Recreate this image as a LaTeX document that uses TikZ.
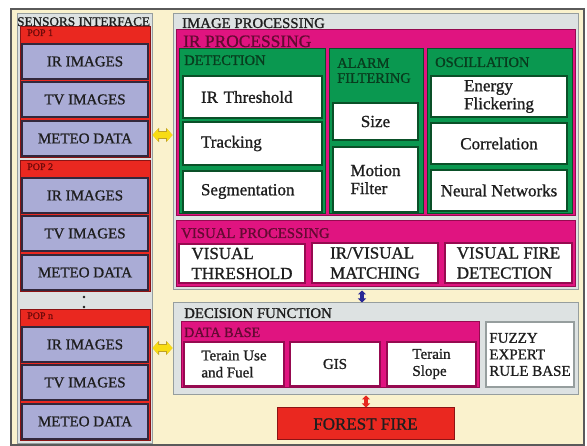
\documentclass[tikz,border=0pt]{standalone}
\usepackage{fontspec}
\setmainfont{Liberation Serif}[UprightFeatures={FakeBold=1}]
\usetikzlibrary{arrows.meta}
\definecolor{cream}{RGB}{250,242,205}
\definecolor{frame}{RGB}{90,90,90}
\definecolor{panel}{RGB}{221,226,226}
\definecolor{panelline}{RGB}{150,158,158}
\definecolor{popred}{RGB}{234,40,32}
\definecolor{popline}{RGB}{140,20,20}
\definecolor{popink}{RGB}{110,10,10}
\definecolor{lavender}{RGB}{170,172,214}
\definecolor{lavline}{RGB}{50,40,60}
\definecolor{irmag}{RGB}{224,20,128}
\definecolor{magline}{RGB}{150,10,80}
\definecolor{magink}{RGB}{100,10,50}
\definecolor{grn}{RGB}{10,152,80}
\definecolor{grnline}{RGB}{10,80,40}
\definecolor{grnink}{RGB}{8,60,30}
\definecolor{ink}{RGB}{30,30,30}
\definecolor{arrowyel}{RGB}{248,220,20}
\definecolor{arrowedge}{RGB}{190,160,40}
\definecolor{arrowblue}{RGB}{40,40,150}
\definecolor{arrowred}{RGB}{230,40,30}
\newcommand{\cell}[7]{\node[#2, minimum width=(#5)-(#3), minimum height=(#6)-(#4)] (#1) at ({(#3+#5)/2},{(#4+#6)/2}) {#7};}
\tikzset{
  greybox/.style={draw=panelline, fill=panel, line width=1pt},
  popbox/.style={draw=popline, fill=popred, line width=1pt},
  magbox/.style={draw=magline, fill=irmag, line width=1pt},
  grnbox/.style={draw=grnline, fill=grn, line width=1pt},
  sensbox/.style={draw=lavline, fill=lavender, line width=1.3pt, text=ink, font=\fontsize{15}{17}\selectfont},
  wbox/.style={draw=grnline, fill=white, line width=1.3pt, text=ink, align=left, inner sep=1pt, font=\fontsize{17}{18}\selectfont},
  detbox/.style={wbox, text width=103pt},
  vbox/.style={wbox, draw=magline, font=\fontsize{17}{20}\selectfont},
  dbbox/.style={wbox, draw=magline, font=\fontsize{15}{17}\selectfont},
  fuzzybox/.style={wbox, draw=panelline, font=\fontsize{15}{16.5}\selectfont},
  firebox/.style={draw=popline, fill=popred, line width=1pt, text=ink, font=\fontsize{17}{19}\selectfont},
  ttl/.style={anchor=base west, inner sep=0pt, text=ink, font=\fontsize{14.8}{17}\selectfont},
  grnttl/.style={ttl, text=grnink, font=\fontsize{14.5}{15}\selectfont},
  popttl/.style={ttl, text=popink, font=\fontsize{10}{11}\selectfont},
  ylink/.style={arrowyel, line width=6pt, {Triangle[length=5.5pt,width=12pt]}-{Triangle[length=5.5pt,width=12pt]},
    preaction={draw=arrowedge, line width=7.6pt, {Triangle[length=6.5pt,width=14pt]}-{Triangle[length=6.5pt,width=14pt]}}},
  blink/.style={arrowblue, line width=4pt, {Triangle[length=4pt,width=8pt]}-{Triangle[length=4pt,width=8pt]}},
  rlink/.style={arrowred, line width=4pt, {Triangle[length=4pt,width=8pt]}-{Triangle[length=4pt,width=8pt]}},
}
\begin{document}
\begin{tikzpicture}[x=1pt,y=-1pt]
\useasboundingbox (0,0) rectangle (587,446);
\fill[white] (0,0) rectangle (587,446);
\filldraw[fill=cream, draw=frame, line width=1.2pt] (11,9) rectangle (584,445);
\cell{sens}{greybox}{17}{14}{152}{444}{}
\node[ttl, font=\fontsize{13.2}{15}\selectfont] (sens-t) at (17,26) {SENSORS INTERFACE};
\foreach \p/\y in {1/27,2/161,n/310}{
  \cell{pop\p}{popbox}{20}{\y}{150}{\y+131}{}
  \node[popttl] (pop\p-t) at (27,\y+9) {POP \p};
  \cell{pop\p-ir}{sensbox}{22}{\y+17}{148}{\y+52}{IR IMAGES}
  \cell{pop\p-tv}{sensbox}{22}{\y+55}{148}{\y+90}{TV IMAGES}
  \cell{pop\p-met}{sensbox}{22}{\y+94}{148}{\y+129}{METEO DATA}
}
\fill[ink] (84,297) circle (1.3pt) (84,307) circle (1.3pt);
\cell{imgp}{greybox}{173}{14}{578}{290}{}
\node[ttl] (imgp-t) at (182,28) {IMAGE PROCESSING};
\cell{irp}{magbox}{176}{30}{575}{216}{}
\node[ttl, text=magink, font=\fontsize{17.4}{19}\selectfont] (irp-t) at (183,47) {IR PROCESSING};
\cell{det}{grnbox}{179}{49}{325}{214}{}
\node[grnttl] (det-t) at (184,65) {DETECTION};
\cell{thr}{detbox}{183}{76}{322}{118}{IR Threshold}
\cell{trk}{detbox}{183}{122}{322}{165}{Tracking}
\cell{seg}{detbox}{183}{171}{322}{212}{Segmentation}
\cell{alarm}{grnbox}{329}{49}{423}{214}{}
\node[grnttl, anchor=north west, align=left] (alarm-t) at (337,58) {ALARM\\FILTERING};
\cell{size}{wbox}{333}{103}{418}{140}{Size}
\cell{motion}{wbox}{333}{147}{418}{212}{Motion\\Filter}
\cell{osc}{grnbox}{427}{49}{572}{214}{}
\node[grnttl] (osc-t) at (435,67) {OSCILLATION};
\cell{energy}{wbox}{431}{76}{567}{117}{Energy\\Flickering}
\cell{corr}{wbox}{431}{123}{567}{164}{Correlation}
\cell{neural}{wbox}{431}{170}{567}{211}{Neural Networks}
\cell{visp}{magbox}{176}{221}{575}{287}{}
\node[ttl, text=magink] (visp-t) at (181,238) {VISUAL PROCESSING};
\cell{vthr}{vbox}{179}{244}{305}{283}{VISUAL\\THRESHOLD}
\cell{match}{vbox}{312}{243}{438}{283}{IR/VISUAL\\MATCHING}
\cell{vfire}{vbox}{445}{243}{572}{283}{VISUAL FIRE\\DETECTION}
\cell{dec}{greybox}{173}{303}{578}{395}{}
\node[ttl] (dec-t) at (184,318) {DECISION FUNCTION};
\cell{db}{magbox}{181}{322}{479}{388}{}
\node[ttl, text=magink, font=\fontsize{14.1}{16}\selectfont] (db-t) at (184,337) {DATA BASE};
\cell{terrain}{dbbox}{184}{342}{284}{386}{Terain Use\\and Fuel}
\cell{gis}{dbbox}{290}{342}{380}{386}{GIS}
\cell{slope}{dbbox}{387}{342}{476}{386}{Terain\\Slope}
\cell{fuzzy}{fuzzybox}{486}{322}{574}{387}{FUZZY\\EXPERT\\RULE BASE}
\cell{fire}{firebox}{277}{408}{454}{440}{FOREST FIRE}
\coordinate (upper) at (0,135);
\coordinate (lower) at (0,348);
\coordinate (blue) at (362,0);
\coordinate (red) at (366,0);
\draw[ylink] (sens.east |- upper) -- (imgp.west |- upper);
\draw[ylink] (sens.east |- lower) -- (dec.west |- lower);
\draw[blink] (imgp.south -| blue) -- (dec.north -| blue);
\draw[rlink] (dec.south -| red) -- (fire.north -| red);
\end{tikzpicture}
\end{document}
